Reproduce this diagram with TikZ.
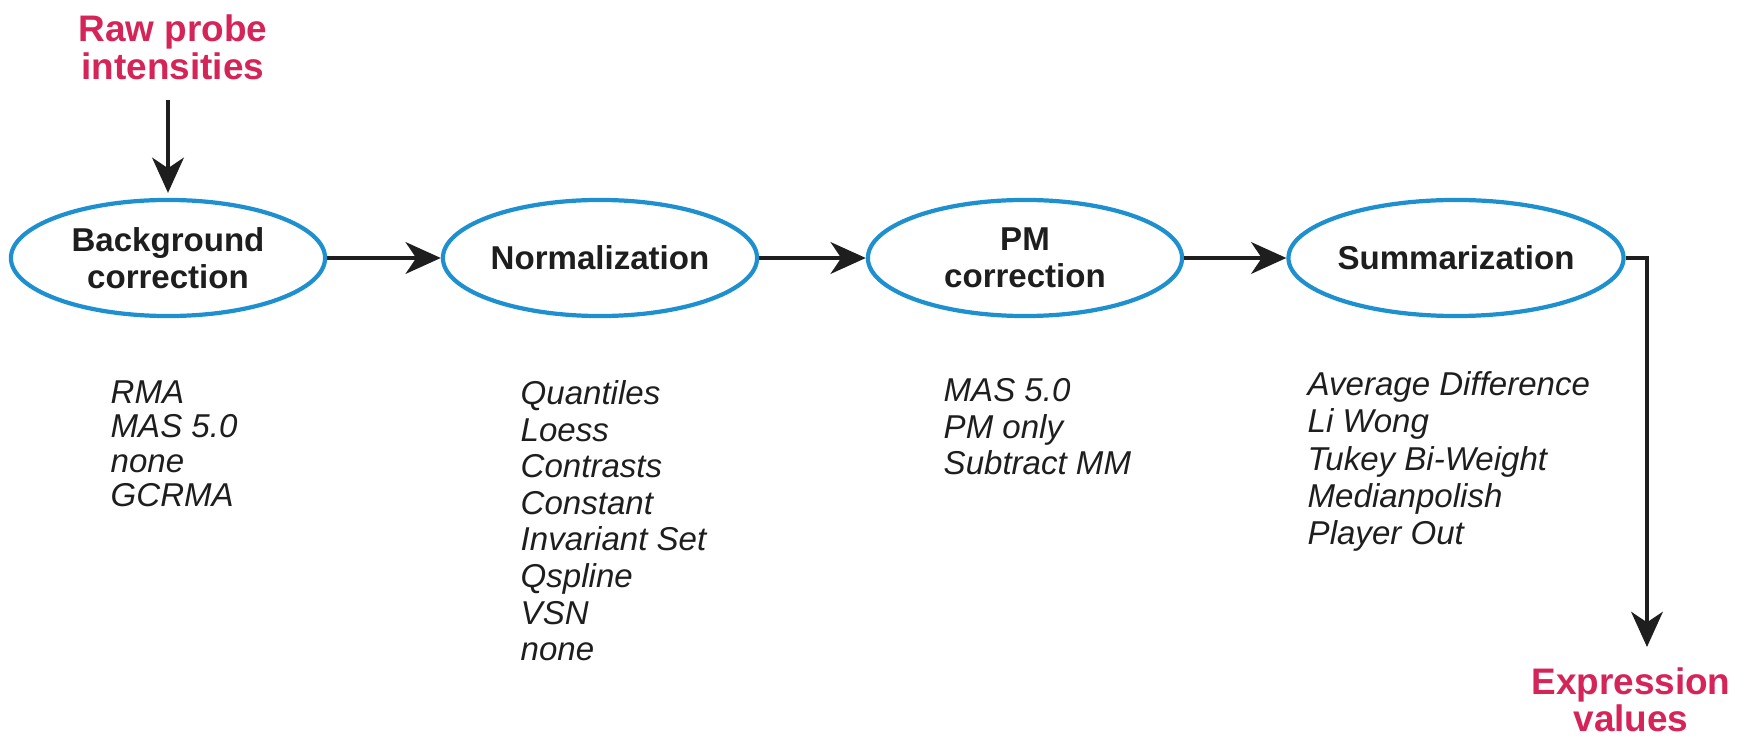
\documentclass[tikz,border=0pt]{standalone}
\usepackage{fontspec}
\setmainfont{Liberation Sans}
\usetikzlibrary{shapes.geometric, arrows.meta}

\definecolor{stepblue}{RGB}{30,144,208}
\definecolor{labelred}{RGB}{212,36,88}
\definecolor{ink}{RGB}{30,30,30}

\tikzset{
	stage/.style={ellipse, draw=stepblue, line width=1.2pt, minimum width=3.14cm, minimum height=1.16cm,
		inner sep=0pt, align=center, text=ink, font=\fontsize{9.4}{10.6}\selectfont\bfseries},
	methods/.style={anchor=north west, inner sep=0pt, align=left, text=ink,
		font=\fontsize{9.4}{10.4}\selectfont\itshape},
	io/.style={inner sep=0pt, align=center, text=labelred, font=\fontsize{10.5}{10.9}\selectfont\bfseries},
	flow/.style={draw=ink, line width=1.1pt, -{Stealth[length=10pt, width=9pt, inset=3pt]}},
}

\begin{document}
\begin{tikzpicture}[x=0.01cm, y=-0.01cm]
	\useasboundingbox (0,0) rectangle (1750,740);
	
	% processing steps
	\node[stage] (bg) at (168, 258) {Background\\correction};
	\node[stage] (norm) at (600, 258) {Normalization};
	\node[stage] (pm) at (1025, 258) {PM\\correction};
	\node[stage] (summ) at (1456, 258) {Summarization};
	
	% input and output
	\node[io, anchor=north] (raw) at (173, 14) {Raw probe\\intensities};
	\node[io, anchor=north, font=\fontsize{10.5}{10.6}\selectfont\bfseries] (expr) at (1631, 667) {Expression\\values};
	\coordinate (turn) at (1647, 258);
	
	% methods under each step
	\node[methods, font=\fontsize{9.4}{9.75}\selectfont\itshape] (bglist) at (110, 380) {RMA\\MAS 5.0\\none\\GCRMA};
	\node[methods] (normlist) at (520, 380) {Quantiles\\Loess\\Contrasts\\Constant\\Invariant Set\\Qspline\\VSN\\none};
	\node[methods] (pmlist) at (943, 378) {MAS 5.0\\PM only\\Subtract MM};
	\node[methods, font=\fontsize{9.4}{10.6}\selectfont\itshape] (summlist) at (1307, 371) {Average Difference\\Li Wong\\Tukey Bi-Weight\\Medianpolish\\Player Out};
	
	\draw[flow, shorten <=0.19cm, shorten >=0.05cm] (raw.south -| bg.north) -- (bg.north);
	\draw[flow] (bg.east) -- (norm.west);
	\draw[flow] (norm.east) -- (pm.west);
	\draw[flow] (pm.east) -- (summ.west);
	\draw[flow, shorten >=0.2cm] (summ.east) -- (turn) -- (turn |- expr.north);
\end{tikzpicture}
\end{document}
